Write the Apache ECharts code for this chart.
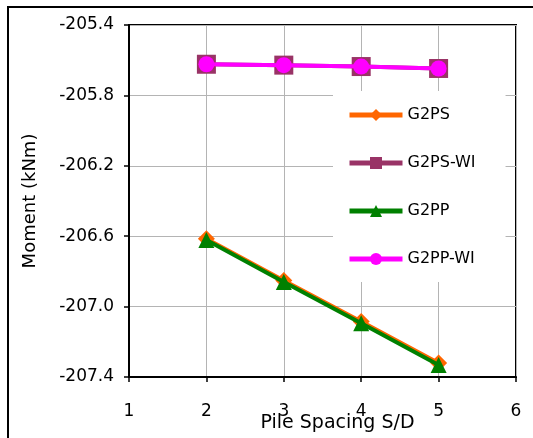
<!DOCTYPE html>
<html><head><meta charset="utf-8">
<script src="https://cdn.jsdelivr.net/npm/echarts@6/dist/echarts.min.js"></script>
<style>html,body{margin:0;padding:0;background:#fff}#c{width:533px;height:438px}</style>
</head><body><div id="c"></div>
<script>
const spacing = [2, 3, 4, 5];
const seriesNames = ['G2PS', 'G2PS-WI', 'G2PP', 'G2PP-WI'];
const g2ps = [-206.615, -206.852, -207.085, -207.320];
const g2psWI = [-205.623, -205.628, -205.636, -205.647];
const g2pp = [-206.622, -206.860, -207.095, -207.332];
const g2ppWI = [-205.623, -205.628, -205.636, -205.647];
const xTicks = [1, 2, 3, 4, 5, 6];
const yTicks = [-207.4, -207.0, -206.6, -206.2, -205.8, -205.4];

const colors = ['#FF6600', '#993366', '#008000', '#FF00FF'];
const symbols = ['diamond', 'rect', 'triangle', 'circle'];
const sizes = [17, 19, 16, 16];
const values = [g2ps, g2psWI, g2pp, g2ppWI];

const chart = echarts.init(document.getElementById('c'), null, {renderer: 'canvas'});
const font = 'DejaVu Sans';
chart.setOption({
  animation: false,
  backgroundColor: '#fff',
  graphic: [{
    type: 'rect', silent: true, z: 100,
    shape: {x: 8, y: 7, width: 600, height: 600},
    style: {fill: 'none', stroke: '#000', lineWidth: 2}
  }],
  grid: {left: 129, top: 25, right: 17, bottom: 61, show: true, borderColor: '#000', borderWidth: 2,
    outerBoundsMode: 'none', containLabel: false},
  legend: {
    orient: 'vertical', left: 333, top: 91,
    backgroundColor: '#fff',
    padding: [16, 30, 15, 14],
    itemWidth: 53, itemHeight: 15, itemGap: 32,
    lineStyle: {width: 5},
    textStyle: {fontFamily: font, fontSize: 16, color: '#000'},
    data: seriesNames.map((n) => ({name: n}))
  },
  xAxis: {
    type: 'value', min: xTicks[0], max: xTicks[xTicks.length - 1], interval: 1,
    name: 'Pile Spacing S/D', nameLocation: 'middle', nameGap: 37, nameMoveOverlap: false,
    nameTextStyle: {fontFamily: font, fontSize: 19, color: '#000', padding: [0, 0, 0, 30]},
    axisLine: {lineStyle: {color: '#000', width: 2}},
    axisTick: {show: true, length: 5, lineStyle: {color: '#000', width: 1.5}},
    axisLabel: {fontFamily: font, fontSize: 17, color: '#000', margin: 26},
    splitLine: {show: true, lineStyle: {color: '#b4b4b4', width: 1}}
  },
  yAxis: {
    type: 'value', min: yTicks[0], max: yTicks[yTicks.length - 1], interval: 0.4,
    name: 'Moment (kNm)', nameLocation: 'middle', nameGap: 90, nameMoveOverlap: false,
    nameTextStyle: {fontFamily: font, fontSize: 18, color: '#000'},
    axisLine: {show: true, lineStyle: {color: '#000', width: 2}},
    axisTick: {show: true, length: 5, lineStyle: {color: '#000', width: 1.5}},
    axisLabel: {fontFamily: font, fontSize: 17, color: '#000', margin: 15,
      formatter: (v) => v.toFixed(1)},
    splitLine: {show: true, lineStyle: {color: '#b4b4b4', width: 1}}
  },
  series: seriesNames.map((n, i) => ({
    name: n, type: 'line',
    data: spacing.map((x, j) => [x, values[i][j]]),
    symbol: symbols[i], symbolSize: sizes[i],
    lineStyle: {color: colors[i], width: 4},
    itemStyle: {color: colors[i]},
    z: 2 + i
  }))
});
</script></body></html>
